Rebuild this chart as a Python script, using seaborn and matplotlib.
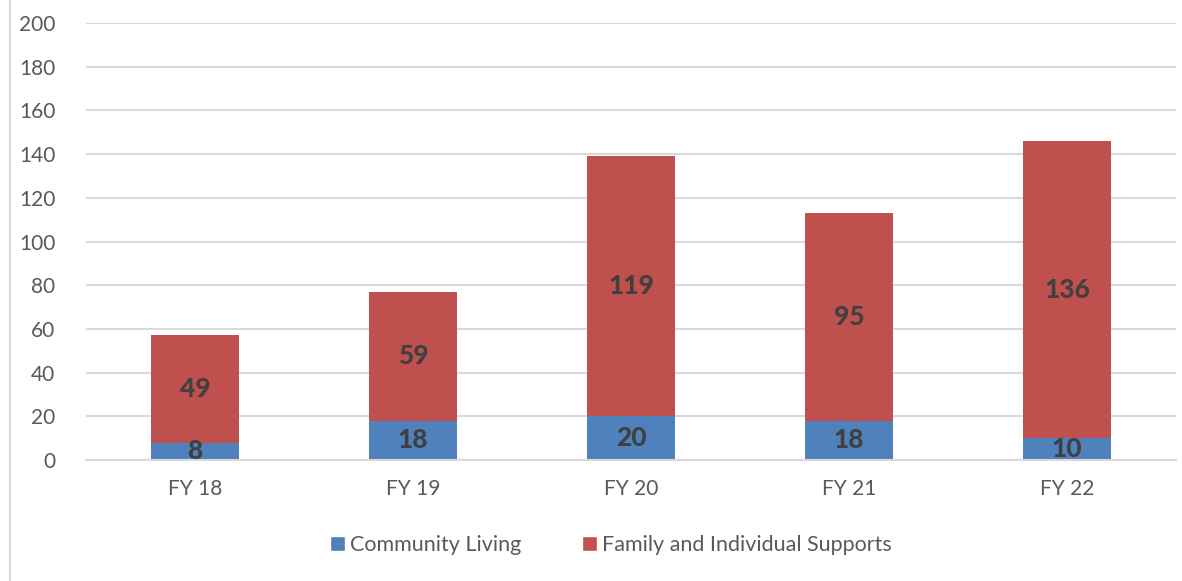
import matplotlib
matplotlib.use("Agg")
import matplotlib.pyplot as plt
import seaborn as sns
import pandas as pd
from matplotlib.patches import Patch
from matplotlib.lines import Line2D

years = ["FY 18", "FY 19", "FY 20", "FY 21", "FY 22"]
community_living = [8, 18, 20, 18, 10]
family_supports = [49, 59, 119, 95, 136]
totals = [a + b for a, b in zip(community_living, family_supports)]

sns.set_theme(style="white")
plt.rcParams['font.family'] = ['Lato', 'DejaVu Sans']

blue = "#4F81BD"
red = "#C0504D"
txt = "#595959"
grid = "#D9D9D9"

df = pd.DataFrame({"year": years, "cl": community_living, "fs": family_supports, "total": totals})

fig = plt.figure(figsize=(11.82, 5.81), dpi=100)
ax = fig.add_axes([86/1182, 121/581, 1090/1182, 437/581])

sns.barplot(data=df, x="year", y="total", color=red, saturation=1, width=0.4, ax=ax, linewidth=0)
sns.barplot(data=df, x="year", y="cl", color=blue, saturation=1, width=0.4, ax=ax, linewidth=0)

ax.set_ylim(0, 200)
ax.set_xlim(-0.5, 4.5)
ax.set_yticks(range(0, 201, 20))
ax.yaxis.grid(True, color=grid, linewidth=1.5)
ax.set_axisbelow(True)
for s in ["top", "right", "left"]:
    ax.spines[s].set_visible(False)
ax.spines["bottom"].set_color(grid)
ax.spines["bottom"].set_linewidth(1.5)
ax.tick_params(axis="both", length=0, labelsize=15, colors=txt, pad=14)
ax.tick_params(axis="y", pad=22)
ax.set_xlabel("")
ax.set_ylabel("")

for i, (c, f) in enumerate(zip(community_living, family_supports)):
    ax.text(i, c / 2, str(c), ha="center", va="center", fontsize=19, fontweight="black", color="#404040")
    ax.text(i, c + f / 2, str(f), ha="center", va="center", fontsize=19, fontweight="black", color="#404040")

handles = [Patch(facecolor=blue, label="Community Living"),
           Patch(facecolor=red, label="Family and Individual Supports")]
leg = fig.legend(handles=handles, loc="center", bbox_to_anchor=(611/1182, 1 - 545/581), ncol=2,
                 frameon=False, fontsize=15.5, handlelength=0.7, handleheight=0.7,
                 handletextpad=0.25, columnspacing=2.8)
for t in leg.get_texts():
    t.set_color(txt)

fig.add_artist(Line2D([10/1182, 10/1182], [0, 1], transform=fig.transFigure, color=grid, linewidth=1.5))

fig.savefig("out.png", dpi=100)
